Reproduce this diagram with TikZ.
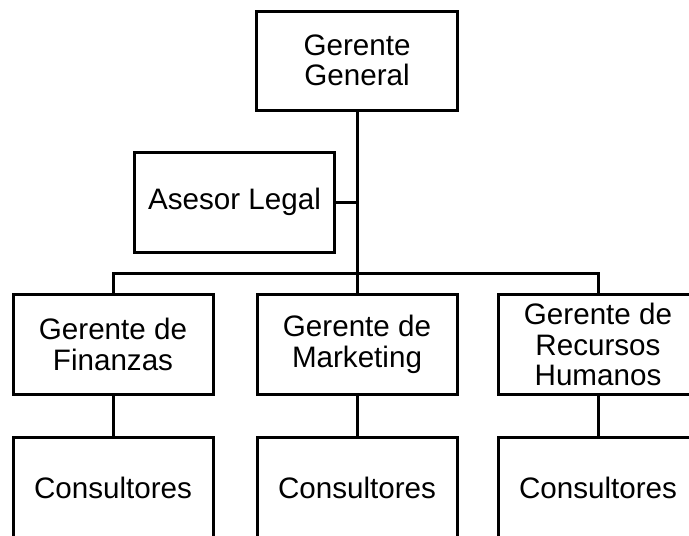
\documentclass[tikz,border=0pt]{standalone}
\usepackage{fontspec}
\setmainfont{Liberation Sans}
\begin{document}
\begin{tikzpicture}[x=1pt,y=-1pt,
  box/.style={draw=black,line width=3pt,fill=white,align=center,inner sep=0pt,
    minimum width=200pt,minimum height=100pt,font=\fontsize{29.6}{30.5}\selectfont},
  conn/.style={draw=black,line width=3pt}]
\useasboundingbox (0,0) rectangle (689,536);
\node[box,minimum width=201pt,minimum height=99pt] (gg) at (357,60.5) {Gerente\\General};
\node[box,minimum width=200pt] (al) at (234.5,202) {Asesor Legal};
\node[box] (fin) at (113,344.5) {Gerente de\\Finanzas};
\node[box] (mk) at (357,344.5) {Gerente de\\Marketing};
\node[box] (hr) at (598,344.5) {Gerente de\\Recursos\\Humanos};
\node[box] (c1) at (113,487.5) {Consultores};
\node[box] (c2) at (357,487.5) {Consultores};
\node[box] (c3) at (598,487.5) {Consultores};
\coordinate (bus) at (357,273);
\draw[conn] (gg.south) -- (mk.north);
\draw[conn] (fin.north) |- (bus) -| (hr.north);
\draw[conn] (al.east) -- (al.east -| gg.south);
\draw[conn] (fin.south) -- (c1.north);
\draw[conn] (mk.south) -- (c2.north);
\draw[conn] (hr.south) -- (c3.north);
\end{tikzpicture}
\end{document}
